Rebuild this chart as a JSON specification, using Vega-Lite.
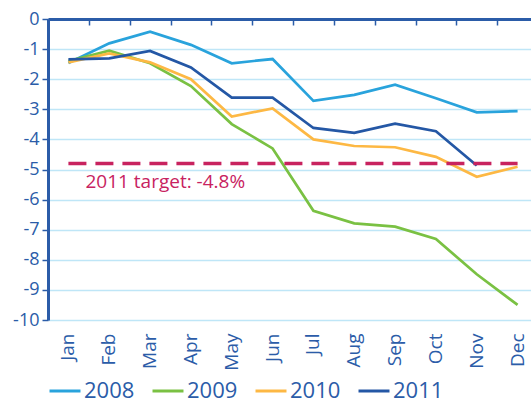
{
  "$schema": "https://vega.github.io/schema/vega-lite/v6.json",
  "width": 483,
  "height": 301,
  "autosize": {"type": "none"},
  "padding": {"left": 48, "top": 19, "right": 0, "bottom": 83},
  "background": "white",
  "config": {"view": {"stroke": null}, "font": "Open Sans"},
  "datasets": {
    "series": [
      {"month": "Jan", "year": "2008", "value": -1.46},
      {"month": "Feb", "year": "2008", "value": -0.81},
      {"month": "Mar", "year": "2008", "value": -0.42},
      {"month": "Apr", "year": "2008", "value": -0.86},
      {"month": "May", "year": "2008", "value": -1.47},
      {"month": "Jun", "year": "2008", "value": -1.33},
      {"month": "Jul", "year": "2008", "value": -2.72},
      {"month": "Aug", "year": "2008", "value": -2.52},
      {"month": "Sep", "year": "2008", "value": -2.18},
      {"month": "Oct", "year": "2008", "value": -2.63},
      {"month": "Nov", "year": "2008", "value": -3.10},
      {"month": "Dec", "year": "2008", "value": -3.06},
      {"month": "Jan", "year": "2009", "value": -1.40},
      {"month": "Feb", "year": "2009", "value": -1.05},
      {"month": "Mar", "year": "2009", "value": -1.47},
      {"month": "Apr", "year": "2009", "value": -2.23},
      {"month": "May", "year": "2009", "value": -3.49},
      {"month": "Jun", "year": "2009", "value": -4.30},
      {"month": "Jul", "year": "2009", "value": -6.37},
      {"month": "Aug", "year": "2009", "value": -6.79},
      {"month": "Sep", "year": "2009", "value": -6.90},
      {"month": "Oct", "year": "2009", "value": -7.31},
      {"month": "Nov", "year": "2009", "value": -8.48},
      {"month": "Dec", "year": "2009", "value": -9.50},
      {"month": "Jan", "year": "2010", "value": -1.44},
      {"month": "Feb", "year": "2010", "value": -1.14},
      {"month": "Mar", "year": "2010", "value": -1.44},
      {"month": "Apr", "year": "2010", "value": -2.00},
      {"month": "May", "year": "2010", "value": -3.24},
      {"month": "Jun", "year": "2010", "value": -2.97},
      {"month": "Jul", "year": "2010", "value": -4.00},
      {"month": "Aug", "year": "2010", "value": -4.22},
      {"month": "Sep", "year": "2010", "value": -4.26},
      {"month": "Oct", "year": "2010", "value": -4.58},
      {"month": "Nov", "year": "2010", "value": -5.24},
      {"month": "Dec", "year": "2010", "value": -4.91},
      {"month": "Jan", "year": "2011", "value": -1.34},
      {"month": "Feb", "year": "2011", "value": -1.31},
      {"month": "Mar", "year": "2011", "value": -1.06},
      {"month": "Apr", "year": "2011", "value": -1.61},
      {"month": "May", "year": "2011", "value": -2.61},
      {"month": "Jun", "year": "2011", "value": -2.61},
      {"month": "Jul", "year": "2011", "value": -3.62},
      {"month": "Aug", "year": "2011", "value": -3.78},
      {"month": "Sep", "year": "2011", "value": -3.48},
      {"month": "Oct", "year": "2011", "value": -3.73},
      {"month": "Nov", "year": "2011", "value": -4.87}
    ],
    "target": [
      {"month": "Jan", "value": -4.8, "label": "2011 target: -4.8%"},
      {"month": "Dec", "value": -4.8, "label": ""}
    ]
  },
  "encoding": {
    "y": {
      "field": "value", "type": "quantitative",
      "scale": {"domain": [-10, 0], "nice": false},
      "axis": {"title": null, "values": [0,-1,-2,-3,-4,-5,-6,-7,-8,-9,-10],
               "labelExpr": "'' + datum.value",
               "domainColor": "#2b5ca8", "domainWidth": 3,
               "tickColor": "#2b5ca8", "tickWidth": 1.5, "tickSize": 6,
               "gridColor": "#bfe6f7", "gridWidth": 1.5,
               "labelFontSize": 18, "labelColor": "#2b5ca8", "labelPadding": 3}
    }
  },
  "layer": [
    {
      "data": {"name": "series"},
      "mark": {"type": "line", "strokeWidth": 2.7},
      "encoding": {
        "x": {
          "field": "month", "type": "ordinal",
          "sort": ["Jan","Feb","Mar","Apr","May","Jun","Jul","Aug","Sep","Oct","Nov","Dec"],
          "scale": {"type": "band", "range": [0, 490], "paddingInner": 0, "paddingOuter": 0},
          "axis": {"orient": "bottom", "title": null, "domain": false, "ticks": false, "grid": false,
                   "labelAngle": -90, "labelPadding": 13, "labelFontSize": 19, "labelColor": "#2b5ca8"}
        },
        "color": {
          "field": "year", "type": "nominal",
          "scale": {"domain": ["2008","2009","2010","2011"], "range": ["#29a3dc","#7ac143","#fdb844","#2457a5"]},
          "legend": {"title": null, "orient": "bottom", "direction": "horizontal", "symbolType": "stroke",
                     "symbolSize": 960, "symbolStrokeWidth": 3, "labelFontSize": 22, "labelColor": "#2b5ca8",
                     "columnPadding": 11, "labelOffset": 2, "offset": 3}
        }
      }
    },
    {
      "data": {"name": "target"},
      "mark": {"type": "line", "strokeWidth": 3.5, "strokeDash": [18, 9], "color": "#c8235f"},
      "encoding": {
        "x": {
          "field": "month", "type": "ordinal",
          "sort": ["Jan","Feb","Mar","Apr","May","Jun","Jul","Aug","Sep","Oct","Nov","Dec"],
          "axis": {"orient": "bottom", "offset": -301, "title": null, "labels": false, "grid": false,
                   "domainColor": "#2b5ca8", "domainWidth": 3, "tickBand": "extent",
                   "tickSize": 6, "tickColor": "#2b5ca8", "tickWidth": 1.5}
        }
      }
    },
    {
      "data": {"name": "target"},
      "mark": {"type": "text", "align": "left", "baseline": "middle", "dx": 17, "dy": 19, "fontSize": 19, "color": "#c8235f"},
      "encoding": {
        "x": {"field": "month", "type": "ordinal",
              "sort": ["Jan","Feb","Mar","Apr","May","Jun","Jul","Aug","Sep","Oct","Nov","Dec"], "axis": null},
        "text": {"field": "label"}
      }
    }
  ],
  "resolve": {"axis": {"x": "independent"}}
}
